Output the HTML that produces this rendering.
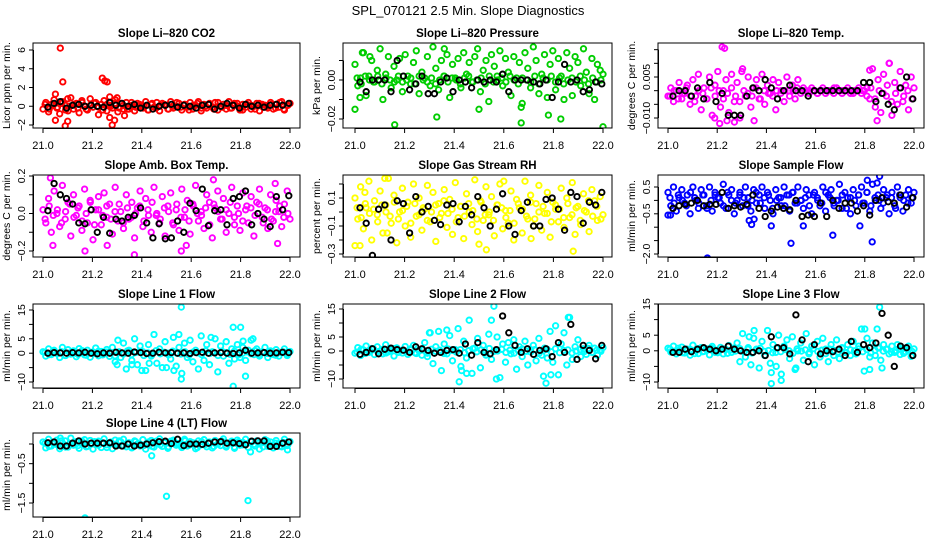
<!DOCTYPE html>
<html><head><meta charset="utf-8"><title>SPL_070121 Slope Diagnostics</title>
<style>
html,body{margin:0;padding:0;background:#fff;}
svg{display:block;font-family:"Liberation Sans",Arial,sans-serif;}
</style></head>
<body>
<svg id="chart" width="936" height="540" viewBox="0 0 936 540" xmlns="http://www.w3.org/2000/svg">
<text x="468" y="15" text-anchor="middle" font-size="13">SPL_070121  2.5 Min. Slope Diagnostics</text>
</svg>
<script>
// ---------- shared axis data ----------
const xTickValues = [21.0, 21.2, 21.4, 21.6, 21.8, 22.0];
const xTickLabels = ["21.0", "21.2", "21.4", "21.6", "21.8", "22.0"];

// ---------- Panel 1: CO2 ----------
const co2Main = [-0.3,0.4,-0.6,0.2,0.7,-0.2,-0.8,0.5,0.1,-0.5,0.9,-0.3,0.3,-0.7,0.6,0.0,-0.4,0.8,-0.1,0.4,-0.9,0.2,0.6,-0.5,0.1,-0.2,0.7,-0.6,0.3,-0.3,0.4,-0.3,0.1,-0.5,0.3,0.0,-0.2,0.5,-0.4,0.2,-0.1,0.4,-0.5,0.3,0.1,-0.3,0.5,-0.2,0.0,0.3,-0.4,0.2,-0.1,0.4,-0.3,0.1,0.5,-0.5,0.2,-0.2,0.3,-0.1,0.4,-0.4,0.0,0.2,-0.3,0.5,-0.2,0.1,0.3,-0.4,0.2,-0.1,0.4,-0.3,0.0,0.3,-0.5,0.2,0.1,-0.2,0.4,-0.3,0.2,-0.1,0.5,-0.4,0.1,0.3];
const co2Band = [0.2,-0.3,0.1,-0.1,0.3,-0.4,0.0,0.2,-0.2,0.4,-0.3,0.1,0.3,-0.1,-0.4,0.2,0.0,0.3,-0.2,0.1,-0.3,0.4,-0.1,0.2,0.0,-0.4,0.3,-0.2,0.1,0.2,-0.3,0.0,0.4,-0.1,0.2,-0.4,0.1,0.3,-0.2,0.0,0.2,-0.3,0.4,-0.1,0.1,-0.2,0.3,0.0,-0.4,0.2,0.1,-0.3,0.3,-0.1,0.0,0.2,-0.2,0.4,-0.3,0.1];
const co2OutX = [21.07,21.08,21.24,21.25,21.26,21.05,21.09,21.10,21.05,21.27,21.28,21.29,21.33,21.27,21.30,21.10];
const co2OutY = [6.2,2.6,3.0,2.7,2.6,1.3,-2.1,-1.6,-1.5,-1.2,-2.0,-1.5,-1.0,1.0,0.9,0.8];
const co2Black = [-0.1,0.3,0.5,-0.2,0.1,0.2,0.0,0.1,0.0,-0.1,0.4,0.1,0.3,0.0,0.2,-0.2,0.1,-0.3,0.0,0.1,0.2,-0.1,0.1,0.0,-0.2,0.1,0.2,-0.3,0.0,0.3,0.1,-0.2,0.2,0.0,0.1,-0.1,0.1,0.2,0.1,0.3];
const co2Ticks = [-2,0,2,4,6];
const co2TickLabels = ["\u22122","0","2","4","6"];

// ---------- Panel 2: Pressure ----------
const presMain = [0.008,-0.003,0.001,0.014,-0.008,0.002,0.010,-0.001,0.005,0.016,-0.010,0.003,0.012,-0.004,0.007,0.000,0.011,-0.006,0.013,0.002,-0.002,0.009,0.015,-0.007,0.004,0.001,0.012,-0.003,0.017,0.006,-0.005,0.010,0.002,0.013,-0.009,0.008,0.001,0.011,-0.004,0.014,0.003,0.009,-0.001,0.012,0.016,-0.006,0.005,0.010,-0.011,0.013,0.007,0.002,0.015,-0.003,0.011,0.004,-0.008,0.012,0.001,0.009,-0.012,0.014,0.006,-0.004,0.017,0.010,-0.007,0.003,0.013,-0.009,0.008,0.015,-0.005,0.011,0.002,-0.010,0.014,0.006,-0.008,0.012,0.009,-0.003,0.016,0.004,-0.007,0.011,-0.010,0.008,0.005,0.003];
const presBand = [0.001,-0.002,0.002,0.000,-0.001,0.002,-0.002,0.001,0.000,-0.001,0.002,-0.001,0.000,0.001,-0.002,0.002,0.000,-0.001,0.001,-0.002,0.000,0.002,-0.001,0.001,0.000,-0.002,0.001,0.002,-0.001,0.000,0.001,-0.002,0.002,-0.001,0.000,0.001,-0.001,0.002,0.000,-0.002,0.001,0.000,-0.001,0.002,-0.002,0.001,0.000,0.002,-0.001,0.001,-0.002,0.000,0.001,-0.001,0.002,0.000,-0.002,0.001,-0.001,0.000];
const presOutX = [21.00,21.02,21.16,21.33,21.50,21.67,21.67,21.78,21.83,22.00,21.36,21.03,21.06];
const presOutY = [-0.015,-0.009,-0.023,-0.019,-0.015,-0.014,-0.022,-0.018,-0.020,-0.024,0.016,0.014,0.012];
const presBlack = [-0.001,-0.006,0.000,0.000,0.000,-0.006,0.010,0.002,-0.005,-0.002,0.002,-0.007,-0.007,-0.001,0.001,-0.006,0.000,-0.001,-0.004,0.000,-0.001,0.000,-0.001,0.003,-0.006,0.000,0.000,0.000,-0.001,-0.002,0.000,-0.009,-0.001,0.008,-0.001,0.000,-0.006,-0.005,-0.001,-0.002];
const presTicks = [-0.02,-0.01,0.00,0.01];
const presTickLabels = ["\u22120.02","","0.00",""];

// ---------- Panel 3: Li-820 Temp ----------
const ltempMain = [-0.002,0.001,-0.004,0.000,0.003,-0.003,-0.001,0.002,-0.005,0.004,-0.002,0.006,-0.007,0.001,-0.003,0.005,-0.009,0.002,0.007,-0.006,0.000,0.004,-0.008,0.006,-0.004,0.003,-0.010,0.008,-0.002,0.005,-0.006,0.001,0.004,-0.003,0.006,-0.005,0.002,-0.001,0.004,-0.007,0.003,0.000,-0.004,0.005,-0.002,0.002,-0.003,0.004,-0.001,0.001,0.000,-0.001,0.001,0.000,-0.001,0.000,0.001,-0.001,0.000,0.000,-0.001,0.001,0.000,-0.001,0.000,0.001,0.000,-0.001,0.000,0.001,-0.001,0.000,0.001,-0.003,0.008,-0.006,0.004,-0.008,0.006,-0.002,0.010,-0.009,0.003,-0.005,0.007,-0.004,0.002,-0.007,0.005,0.001];
const ltempBand = [-0.002,0.000,-0.003,-0.001,0.001,-0.002,-0.004,0.000,-0.001,-0.003,0.001,-0.002,0.000,-0.003,-0.001,0.001,-0.002,-0.004,0.000,-0.001,-0.002,0.001,-0.003,0.000,-0.001,-0.002,0.000,-0.001,0.000,0.000,0.000,0.001,0.000,0.000,0.000,0.000,-0.001,0.000,0.000,0.000,0.001,0.000,0.000,0.000,-0.001,0.000,0.000,0.000,-0.002,0.001,-0.003,0.000,-0.001,0.002,-0.004,-0.001,0.001,-0.002,0.000,-0.003];
const ltempOutX = [21.22,21.23,21.21,21.24,21.35,21.85,21.90,21.82,21.30,21.19,21.27];
const ltempOutY = [0.016,0.0155,-0.012,-0.011,-0.011,-0.011,0.010,0.0075,0.007,-0.010,-0.0115];
const ltempBlack = [-0.002,0.000,0.000,-0.002,0.001,-0.003,0.003,-0.004,-0.001,-0.009,-0.009,-0.009,-0.002,0.001,0.000,0.004,0.001,-0.003,0.000,0.002,0.000,0.000,-0.002,0.000,0.000,0.000,0.000,0.000,0.000,0.000,0.000,0.003,0.003,-0.004,-0.001,-0.005,-0.007,0.001,0.005,-0.003];
const ltempTicks = [-0.010,-0.005,0.000,0.005,0.010,0.015];
const ltempTickLabels = ["\u22120.010","","","0.005","",""];

// ---------- Panel 4: Amb. Box Temp ----------
const ambMain = [0.02,-0.05,0.08,-0.10,0.12,0.00,-0.07,0.15,-0.03,0.06,-0.12,0.10,-0.01,0.04,-0.09,0.13,-0.05,0.07,-0.14,0.02,0.09,-0.06,0.11,-0.02,0.05,-0.11,0.14,-0.04,0.01,-0.08,0.10,-0.03,0.06,-0.13,0.03,0.12,-0.07,0.08,-0.01,-0.10,0.14,0.00,-0.05,0.09,-0.12,0.04,0.11,-0.06,0.02,-0.09,0.13,-0.02,0.07,-0.11,0.05,0.15,-0.04,0.01,-0.08,0.10,0.06,-0.13,0.03,0.12,-0.03,0.08,-0.10,0.00,0.14,-0.06,0.04,-0.09,0.11,0.02,-0.05,0.09,-0.12,0.06,0.13,-0.02,0.03,-0.08,0.10,-0.04,0.07,0.01,-0.07,0.05,0.12,-0.03];
const ambBand = [-0.03,0.04,-0.01,0.02,-0.05,0.01,0.05,-0.02,0.03,-0.04,0.00,0.06,-0.06,0.02,-0.01,0.04,-0.03,0.01,0.05,-0.05,0.03,-0.02,0.00,0.04,-0.04,0.02,0.06,-0.01,-0.03,0.03,0.01,-0.05,0.05,-0.02,0.02,-0.04,0.04,0.00,-0.01,0.03,-0.06,0.05,0.01,-0.03,0.02,0.06,-0.02,0.00,-0.04,0.04,0.03,-0.01,0.05,-0.05,0.02,-0.03,0.01,0.04,-0.02,0.00];
const ambOutX = [21.03,21.04,21.17,21.26,21.37,21.56,21.58,21.69,21.95,21.94];
const ambOutY = [0.19,-0.17,-0.20,-0.17,-0.22,-0.20,-0.17,0.18,-0.16,0.16];
const ambBlack = [0.015,0.16,0.10,0.08,0.05,-0.05,-0.055,0.02,-0.10,-0.02,-0.105,-0.03,-0.04,-0.02,-0.01,0.03,-0.05,-0.13,-0.055,-0.135,-0.13,-0.04,-0.10,0.055,0.015,0.13,-0.065,0.015,0.02,-0.06,0.08,0.09,0.12,-0.06,0.00,-0.03,-0.07,0.09,0.02,0.095];
const ambTicks = [-0.2,-0.1,0.0,0.1,0.2];
const ambTickLabels = ["\u22120.2","","0.0","","0.2"];

// ---------- Panel 5: Gas Stream RH ----------
const rhMain = [0.10,-0.05,0.18,-0.12,0.03,0.22,-0.20,0.08,-0.02,0.15,-0.15,0.05,0.24,-0.08,0.12,-0.22,0.00,0.17,-0.10,0.07,-0.18,0.20,-0.03,0.10,-0.13,0.02,0.19,-0.07,0.14,-0.21,0.06,-0.01,0.16,-0.11,0.09,-0.16,0.21,-0.04,0.04,-0.19,0.13,0.00,-0.09,0.23,-0.14,0.08,-0.06,0.18,-0.02,0.11,-0.17,0.05,0.20,-0.12,0.01,-0.08,0.15,-0.20,0.09,0.03,-0.15,0.22,-0.05,0.12,-0.10,0.06,0.19,-0.13,-0.01,0.14,-0.18,0.07,0.02,-0.07,0.17,-0.11,0.10,-0.04,0.21,-0.16,0.04,-0.09,0.13,0.00,-0.14,0.16,0.08,-0.06,0.11,-0.02];
const rhBand = [0.03,-0.04,0.06,-0.01,0.02,-0.07,0.05,0.00,-0.03,0.07,-0.05,0.01,0.04,-0.08,0.06,-0.02,0.03,-0.06,0.00,0.05,-0.04,0.08,-0.01,0.02,-0.07,0.04,-0.03,0.06,0.01,-0.05,0.07,-0.02,0.00,-0.06,0.05,0.03,-0.04,0.01,-0.08,0.06,0.02,-0.03,0.07,-0.05,0.00,0.04,-0.01,-0.07,0.05,0.02,-0.04,0.06,-0.02,0.03,-0.06,0.01,0.08,-0.03,0.04,-0.05];
const rhOutX = [21.00,21.02,21.12,21.50,21.53,21.88,21.60,21.13,21.04,21.71];
const rhOutY = [-0.24,-0.24,0.24,-0.23,-0.27,-0.28,0.22,-0.15,0.14,-0.19];
const rhBlack = [0.03,-0.08,-0.31,0.02,0.05,-0.20,0.08,0.06,-0.15,0.11,0.00,0.04,-0.06,-0.09,0.05,0.06,-0.07,0.04,-0.02,0.11,0.03,-0.10,0.02,0.13,-0.10,-0.16,0.01,0.07,-0.10,-0.10,0.09,0.10,0.02,-0.13,0.14,0.11,-0.08,0.07,0.05,0.14];
const rhTicks = [-0.3,-0.2,-0.1,0.0,0.1,0.2];
const rhTickLabels = ["\u22120.3","","\u22120.1","","0.1",""];

// ---------- Panel 6: Sample Flow ----------
const sfMain = [0.3,-0.2,0.5,-0.4,0.1,0.4,-0.1,0.2,-0.5,0.5,0.0,-0.3,0.4,0.2,-0.2,0.5,-0.4,0.3,0.1,-0.1,0.6,-0.3,0.2,0.4,-0.5,0.0,0.3,-0.2,0.5,0.1,-0.4,0.4,-0.1,0.2,0.5,-0.3,0.3,0.0,-0.5,0.4,0.1,-0.2,0.5,0.2,-0.4,0.3,-0.1,0.5,0.0,-0.3,0.4,0.2,-0.5,0.3,0.1,-0.2,0.5,-0.4,0.2,0.4,-0.1,0.0,0.6,-0.3,0.3,0.1,-0.5,0.4,-0.2,0.2,0.5,-0.1,0.3,-0.4,0.6,0.0,0.2,-0.3,0.4,0.1,-0.5,0.3,-0.2,0.5,0.1,-0.4,0.2,0.4,-0.1,0.3];
const sfBand = [0.1,-0.1,0.2,0.0,-0.2,0.3,0.1,-0.1,0.2,-0.3,0.0,0.2,0.1,-0.2,0.3,0.0,-0.1,0.2,0.1,-0.2,0.0,0.3,-0.1,0.1,0.2,-0.3,0.0,0.1,-0.2,0.2,0.3,-0.1,0.0,0.1,-0.2,0.2,0.0,-0.1,0.3,0.1,-0.2,0.0,0.2,-0.3,0.1,0.0,0.2,-0.1,0.3,-0.2,0.1,0.0,-0.1,0.2,0.1,-0.3,0.2,0.0,-0.1,0.1];
const sfOutX = [21.00,21.01,21.16,21.33,21.34,21.42,21.50,21.55,21.67,21.78,21.83,21.81,21.86,21.85,21.35];
const sfOutY = [-0.55,-0.55,-2.15,-0.75,-0.9,-0.95,-1.6,-0.95,-1.3,-0.95,-1.55,0.75,0.9,0.65,-0.7];
const sfBlack = [-0.3,-0.2,-0.15,-0.1,0.0,-0.2,-0.15,-0.15,0.3,-0.3,-0.2,-0.25,-0.15,0.2,-0.3,-0.6,-0.4,-0.25,-0.3,-0.35,0.0,-0.6,-0.55,-0.6,-0.1,-0.6,0.0,-0.3,-0.1,-0.1,-0.4,-0.2,-0.55,0.0,0.1,-0.05,-0.1,0.2,-0.25,0.1];
const sfTicks = [-2.0,-1.5,-1.0,-0.5,0.0,0.5];
const sfTickLabels = ["\u22122.0","","","\u22120.5","","0.5"];

// ---------- Panel 7: Line 1 Flow ----------
const l1Main = [0.5,-1.0,1.5,-0.5,1.0,0.0,-1.5,2.0,-0.8,1.2,-0.3,0.8,-1.2,1.6,0.2,-0.6,1.0,-1.4,0.4,1.8,-0.9,0.6,-0.2,1.3,-1.1,2.0,-3.0,4.5,-1.5,3.5,-5.5,1.0,-2.5,5.0,-4.0,2.5,0.5,-6.0,3.0,-1.0,6.5,-3.5,1.5,-5.0,4.0,0.0,-2.0,5.5,-4.5,2.0,-7.0,3.5,-1.5,4.5,-3.0,1.0,-5.5,6.0,-2.5,3.0,-4.0,0.5,5.0,-6.5,2.5,-1.0,4.0,-3.5,1.5,-2.0,3.0,-1.5,2.0,-2.5,1.0,4.5,-0.5,1.5,-1.0,0.5,2.0,-1.5,0.8,-0.5,1.2,-1.0,0.3,1.5,-0.8,0.6];
const l1Band = [0.3,-0.5,0.8,-0.2,0.5,-0.8,0.1,0.6,-0.4,0.9,-0.7,0.2,-0.1,0.7,-0.6,0.4,0.0,-0.9,0.5,-0.3,0.8,-0.5,0.2,0.6,-0.8,0.1,-0.4,0.9,-0.2,0.3,-0.6,0.7,0.0,-0.3,0.5,-0.7,0.4,0.1,-0.5,0.8,-0.1,0.3,-0.8,0.6,0.2,-0.4,0.7,-0.6,0.0,0.5,-0.2,0.9,-0.5,0.3,-0.1,0.6,-0.7,0.2,0.4,-0.3];
const l1OutX = [21.56,21.55,21.77,21.80,21.56,21.77,21.82,21.68,21.36,21.30,21.40,21.43,21.85,21.81,21.50,21.53];
const l1OutY = [16,6.5,9,9,-9,-11.5,-8,5.5,-4,-4,-6,-3.5,5,4.2,-5,-6];
const l1Black = [0.0,0.2,0.1,0.0,0.2,0.1,0.3,0.0,-0.2,0.1,0.0,0.3,0.1,0.0,0.4,0.2,-0.1,0.0,0.3,0.1,0.2,0.0,0.1,-0.1,0.2,0.3,0.0,0.1,0.2,0.0,-0.1,0.1,1.0,0.0,0.1,0.2,0.0,0.1,0.3,0.2];
const l1Ticks = [-10,-5,0,5,10,15];
const l1TickLabels = ["\u221210","","0","5","","15"];

// ---------- Panel 8: Line 2 Flow ----------
const l2Main = [-0.8,1.2,-1.6,0.4,1.8,-0.5,0.9,-1.3,1.5,0.0,-1.0,2.2,-0.3,0.7,-1.8,1.1,0.2,-0.7,1.6,-1.2,0.5,2.0,-0.9,0.3,-1.5,3.0,-2.0,6.5,-4.5,1.5,7.0,-7.0,2.5,-1.0,5.5,-3.5,0.5,8.0,-5.5,3.5,-2.5,11.0,-8.0,1.0,4.5,-6.0,2.0,-1.5,6.0,-3.0,0.0,5.0,-9.5,2.5,-4.0,3.0,-1.0,4.0,-6.5,1.5,-2.0,3.5,-5.0,0.5,2.0,-3.5,4.5,-1.5,1.0,-2.5,7.0,-4.0,9.0,-8.5,2.5,6.5,-5.0,12.0,-3.0,1.5,4.0,-2.0,0.8,-1.2,2.0,-0.5,1.0,-1.5,0.4,1.2];
const l2Band = [-0.4,0.6,-0.9,0.2,0.7,-0.3,0.5,-0.7,0.1,0.9,-0.5,0.3,-0.2,0.8,-0.6,0.0,0.4,-0.8,0.6,-0.1,0.3,-0.9,0.7,0.2,-0.4,0.5,-0.6,0.1,0.8,-0.3,0.4,-0.7,0.9,-0.2,0.0,0.6,-0.5,0.3,-0.8,0.2,0.7,-0.1,-0.4,0.5,-0.9,0.1,0.6,-0.3,0.8,-0.6,0.2,0.4,-0.7,0.0,0.5,-0.2,0.9,-0.5,0.3,-0.1];
const l2OutX = [21.56,21.55,21.42,21.77,21.86,21.57,21.45,21.76,21.79,21.43,21.37,21.30];
const l2OutY = [16,11,-11,-11.5,12,-10,-8,-9,-8.5,-7,7.5,6.5];
const l2Black = [-1.2,-0.5,0.8,-1.0,0.6,1.0,0.5,0.3,-0.5,1.5,0.8,0.2,-0.8,-0.5,0.2,0.5,-0.8,2.5,-1.5,3.0,-0.5,-1.0,0.5,12.5,6.5,2.0,-0.5,0.8,-1.2,0.2,0.8,-2.0,3.0,-0.5,9.5,-3.0,2.0,0.2,-2.8,2.0];
const l2Ticks = [-10,-5,0,5,10,15];
const l2TickLabels = ["\u221210","","0","5","","15"];

// ---------- Panel 9: Line 3 Flow ----------
const l3Main = [0.8,-0.4,1.5,-1.0,0.2,1.2,-0.7,0.5,-1.4,1.8,0.0,-0.9,1.0,-0.2,0.6,-1.3,1.4,0.3,-0.6,1.1,-1.0,0.4,1.7,-0.5,0.9,2.5,-3.5,5.5,-2.0,1.0,-4.5,4.0,0.5,-5.5,3.0,-1.5,6.5,-4.0,2.0,-0.5,5.0,-7.5,1.5,3.5,-2.5,4.5,-6.0,0.0,2.5,-3.0,5.5,-1.0,1.5,-4.5,3.0,-2.0,4.0,0.5,-3.5,2.0,-1.5,3.5,-2.5,1.0,-0.5,2.0,-1.5,3.0,-1.0,1.5,7.0,-6.5,4.0,-2.0,2.5,-1.5,1.0,-3.0,2.0,0.5,-1.0,1.5,-0.5,2.0,-1.2,0.8,-0.3,1.5,-1.8,0.6];
const l3Band = [0.5,-0.2,0.8,-0.6,0.1,0.4,-0.9,0.7,-0.3,0.2,0.9,-0.5,0.0,0.6,-0.8,0.3,-0.1,0.7,-0.4,0.5,-0.7,0.2,0.8,-0.2,0.1,-0.6,0.9,-0.3,0.4,0.0,-0.8,0.6,-0.1,0.3,-0.5,0.7,-0.2,0.2,-0.9,0.5,0.1,-0.4,0.8,-0.6,0.3,0.0,0.6,-0.3,0.4,-0.7,0.2,0.9,-0.1,0.5,-0.5,0.1,0.7,-0.8,0.3,-0.2];
const l3OutX = [21.42,21.46,21.42,21.44,21.86,21.80,21.85,21.82,21.52,21.35,21.33,21.87];
const l3OutY = [-10.5,-9.5,-7,-5,14,7,7,-6,-5.5,6.5,4.5,-5.5];
const l3Black = [-0.5,-0.5,0.5,-0.3,0.5,1.0,0.5,0.0,0.5,1.5,0.5,0.0,-0.5,-0.5,0.0,-1.5,4.5,1.0,1.0,-1.0,11.5,3.5,-3.5,2.0,-1.0,0.0,-0.3,0.5,-1.5,3.0,-0.5,2.0,1.0,2.5,12.0,5.0,-5.0,1.5,1.0,-1.5];
const l3Ticks = [-10,-5,0,5,10,15];
const l3TickLabels = ["\u221210","","0","5","","15"];

// ---------- Panel 10: Line 4 (LT) Flow ----------
const l4Main = [0.05,-0.10,0.12,-0.05,0.00,0.10,-0.12,0.03,0.08,-0.08,0.15,-0.03,0.06,-0.11,0.02,0.11,-0.06,0.09,-0.13,0.04,0.07,-0.09,0.13,-0.02,0.01,-0.12,0.10,-0.04,0.06,0.12,-0.07,0.03,-0.10,0.08,0.00,-0.05,0.11,-0.13,0.05,0.09,-0.08,0.02,0.13,-0.06,0.04,-0.11,0.07,0.10,-0.03,0.01,-0.09,0.12,-0.05,0.06,0.03,-0.12,0.08,-0.02,0.11,-0.07,0.05,-0.10,0.09,0.00,-0.04,0.13,-0.08,0.02,0.07,-0.11,0.10,-0.03,0.04,0.12,-0.09,0.06,-0.01,0.08,-0.13,0.03,0.11,-0.06,0.05,-0.10,0.09,0.01,-0.07,0.12,-0.04,0.06];
const l4Band = [0.02,-0.06,0.05,-0.02,0.08,-0.08,0.00,0.04,-0.04,0.07,-0.07,0.01,0.06,-0.03,0.03,-0.09,0.05,-0.01,0.08,-0.05,0.02,-0.08,0.06,0.00,-0.04,0.04,-0.06,0.07,-0.02,0.03,-0.07,0.05,0.01,-0.05,0.08,-0.03,0.02,-0.09,0.06,-0.01,0.04,-0.06,0.00,0.07,-0.04,0.03,-0.08,0.05,-0.02,0.01,0.06,-0.05,0.03,-0.07,0.08,-0.03,0.02,-0.06,0.04,-0.01];
const l4OutX = [21.44,21.50,21.83,21.17,21.07,21.84,21.99];
const l4OutY = [-0.30,-1.33,-1.44,-1.88,0.15,-0.20,-0.15];
const l4Black = [0.03,0.05,-0.05,-0.05,0.02,0.08,0.00,0.02,0.02,0.02,0.03,-0.05,-0.05,0.00,-0.05,-0.03,0.00,0.03,0.06,0.07,0.01,0.12,-0.04,0.00,0.00,-0.01,0.02,0.05,0.06,0.02,0.03,0.01,-0.02,0.07,0.08,0.08,-0.06,-0.06,0.02,0.05];
const l4Ticks = [-1.5,-1.0,-0.5,0.0];
const l4TickLabels = ["\u22121.5","","\u22120.5",""];

// ---------- layout (positions only) ----------
const NS = "http://www.w3.org/2000/svg";
const svg = document.getElementById("chart");
const cols = [
  {box:[33,300], x0:43, x1:290},
  {box:[343,612], x0:355, x1:603},
  {box:[658,924], x0:668, x1:914}
];
const rows = [[43,128],[175,257],[304,388],[433,517]];

const panels = [
  {name:"co2", title:"Slope Li\u2013820 CO2", ylab:"Licor ppm per min.", col:0, row:0, color:"#ff0000", main:co2Main, band:co2Band, ox:co2OutX, oy:co2OutY, black:co2Black, ticks:co2Ticks, tl:co2TickLabels, ya:[6,50], yb:[-2,125]},
  {name:"pressure", title:"Slope Li\u2013820 Pressure", ylab:"kPa per min.", col:1, row:0, color:"#00cd00", main:presMain, band:presBand, ox:presOutX, oy:presOutY, black:presBlack, ticks:presTicks, tl:presTickLabels, ya:[0,80], yb:[-0.02,119]},
  {name:"li820-temp", title:"Slope Li\u2013820 Temp.", ylab:"degrees C per min.", col:2, row:0, color:"#ff00ff", main:ltempMain, band:ltempBand, ox:ltempOutX, oy:ltempOutY, black:ltempBlack, ticks:ltempTicks, tl:ltempTickLabels, ya:[0.005,77], yb:[-0.010,118]},
  {name:"amb-box-temp", title:"Slope Amb. Box Temp.", ylab:"degrees C per min.", col:0, row:1, color:"#ff00ff", main:ambMain, band:ambBand, ox:ambOutX, oy:ambOutY, black:ambBlack, ticks:ambTicks, tl:ambTickLabels, ya:[0.2,176], yb:[-0.2,251]},
  {name:"gas-stream-rh", title:"Slope Gas Stream RH", ylab:"percent per min.", col:1, row:1, color:"#ffff00", main:rhMain, band:rhBand, ox:rhOutX, oy:rhOutY, black:rhBlack, ticks:rhTicks, tl:rhTickLabels, ya:[0.2,184], yb:[-0.3,254]},
  {name:"sample-flow", title:"Slope Sample Flow", ylab:"ml/min per min.", col:2, row:1, color:"#0000ff", main:sfMain, band:sfBand, ox:sfOutX, oy:sfOutY, black:sfBlack, ticks:sfTicks, tl:sfTickLabels, ya:[0.5,187], yb:[-2.0,254]},
  {name:"line1-flow", title:"Slope Line 1 Flow", ylab:"ml/min per min.", col:0, row:2, color:"#00ffff", main:l1Main, band:l1Band, ox:l1OutX, oy:l1OutY, black:l1Black, ticks:l1Ticks, tl:l1TickLabels, ya:[15,310], yb:[-10,382]},
  {name:"line2-flow", title:"Slope Line 2 Flow", ylab:"ml/min per min.", col:1, row:2, color:"#00ffff", main:l2Main, band:l2Band, ox:l2OutX, oy:l2OutY, black:l2Black, ticks:l2Ticks, tl:l2TickLabels, ya:[15,309], yb:[-10,379]},
  {name:"line3-flow", title:"Slope Line 3 Flow", ylab:"ml/min per min.", col:2, row:2, color:"#00ffff", main:l3Main, band:l3Band, ox:l3OutX, oy:l3OutY, black:l3Black, ticks:l3Ticks, tl:l3TickLabels, ya:[15,304], yb:[-10,382]},
  {name:"line4-flow", title:"Slope Line 4 (LT) Flow", ylab:"ml/min per min.", col:0, row:3, color:"#00ffff", main:l4Main, band:l4Band, ox:l4OutX, oy:l4OutY, black:l4Black, ticks:l4Ticks, tl:l4TickLabels, ya:[0,444], yb:[-1.5,503]}
];

function mk(tag, attrs, parent){
  const e = document.createElementNS(NS, tag);
  for (const k in attrs) e.setAttribute(k, attrs[k]);
  parent.appendChild(e);
  return e;
}

function drawPanel(p){
  const c = cols[p.col], r = rows[p.row];
  const g = mk("g", {}, svg);
  
  
  const xs = v => c.x0 + (v - 21) * (c.x1 - c.x0);
  const ys = v => p.ya[1] + (v - p.ya[0]) * (p.yb[1] - p.ya[1]) / (p.yb[0] - p.ya[0]);
  const midX = (c.box[0] + c.box[1]) / 2;

  const title = mk("text", {x:midX, y:r[0]-6, "text-anchor":"middle", "font-size":"11.5", "font-weight":"bold"}, g);
  title.textContent = p.title;
  
  

  const clipId = "clip-" + p.name;
  const cp = mk("clipPath", {id:clipId}, g);
  mk("rect", {x:c.box[0], y:r[0], width:c.box[1]-c.box[0], height:r[1]-r[0]}, cp);
  const pts = mk("g", {"clip-path":"url(#"+clipId+")", fill:"none", "stroke-width":"1.9"}, g);
  
  

  const ring = (x, y, col, nm) => {
    const ci = mk("circle", {cx:x.toFixed(1), cy:y.toFixed(1), r:"2.7", stroke:col}, pts);
    
    
  };
  p.main.forEach((v, i) => ring(xs(21 + i/(p.main.length-1)), ys(v), p.color, p.name + '-point'));
  p.band.forEach((v, i) => ring(xs(21 + (i+0.5)/p.band.length), ys(v), p.color, p.name + '-point'));
  p.ox.forEach((xv, i) => ring(xs(xv), ys(p.oy[i]), p.color, p.name + '-outlier'));
  p.black.forEach((v, i) => ring(xs(21.02 + 0.975*i/(p.black.length-1)), ys(v), "#000", p.name + '-reference-point'));

  const box = mk("rect", {x:c.box[0], y:r[0], width:c.box[1]-c.box[0], height:r[1]-r[0], fill:"none", stroke:"#000", "stroke-width":"1"}, g);
  
  

  const xa = mk("g", {stroke:"#000", "stroke-width":"1"}, g);
  
  
  mk("line", {x1:xs(xTickValues[0]), x2:xs(xTickValues[xTickValues.length-1]), y1:r[1]+0.5, y2:r[1]+0.5}, xa);
  xTickValues.forEach((v, i) => {
    mk("line", {x1:xs(v), x2:xs(v), y1:r[1], y2:r[1]+5}, xa);
    const t = mk("text", {x:xs(v), y:r[1]+21, "text-anchor":"middle", "font-size":"11", stroke:"none", fill:"#000"}, xa);
    t.textContent = xTickLabels[i];
    
    
  });

  const ya = mk("g", {stroke:"#000", "stroke-width":"1"}, g);
  
  
  const yt0 = ys(p.ticks[0]), yt1 = ys(p.ticks[p.ticks.length-1]);
  mk("line", {x1:c.box[0]+0.5, x2:c.box[0]+0.5, y1:Math.min(r[1], yt0), y2:Math.max(r[0], yt1)}, ya);
  p.ticks.forEach((v, i) => {
    const y = ys(v);
    if (y < r[0]-1 || y > r[1]+1) return;
    mk("line", {x1:c.box[0]-4, x2:c.box[0], y1:y, y2:y}, ya);
    if (p.tl[i]) {
      const t = mk("text", {x:0, y:0, transform:"translate("+(c.box[0]-8)+","+y.toFixed(1)+") rotate(-90)", "text-anchor":"middle", "font-size":"10.5", stroke:"none", fill:"#000"}, ya);
      t.textContent = p.tl[i];
      
      
    }
  });
  const yl = mk("text", {x:0, y:0, transform:"translate("+(c.box[0]-23)+","+((r[0]+r[1])/2)+") rotate(-90)", "text-anchor":"middle", "font-size":"10.5"}, g);
  yl.textContent = p.ylab;
  
  
}

panels.forEach(drawPanel);
</script>
</body></html>
